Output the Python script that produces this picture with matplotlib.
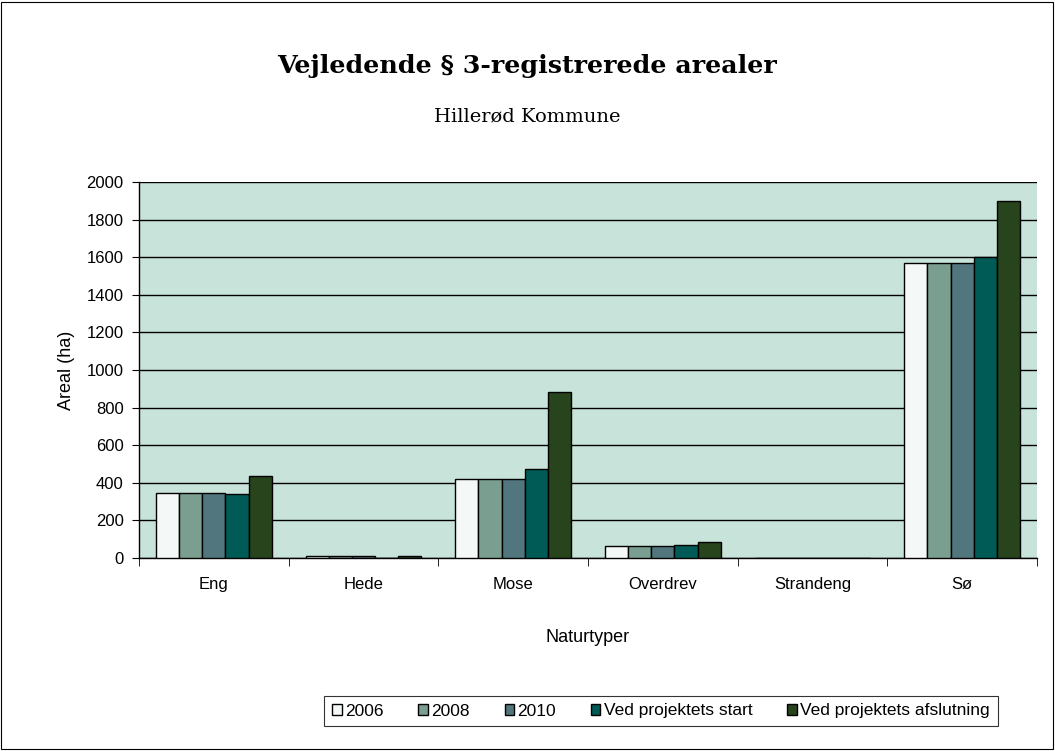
import matplotlib.pyplot as plt
import numpy as np

categories = ['Eng', 'Hede', 'Mose', 'Overdrev', 'Strandeng', 'Sø']
series = ['2006', '2008', '2010', 'Ved projektets start', 'Ved projektets afslutning']
v2006 = [346, 8, 422, 64, 0, 1569]
v2008 = [346, 8, 422, 64, 0, 1569]
v2010 = [346, 8, 422, 64, 0, 1569]
v_start = [340, 1, 473, 69, 0, 1600]
v_end = [436, 8, 883, 85, 0, 1899]
values = [v2006, v2008, v2010, v_start, v_end]
colors = ['#F4F9F7', '#7A9E90', '#51767D', '#005A55', '#27441C']

fig = plt.figure(figsize=(10.55, 7.51), dpi=100)
fig.patches.append(plt.Rectangle((0.001, 0.002), 0.997, 0.996, transform=fig.transFigure,
                                 fill=False, edgecolor='black', linewidth=0.8))
ax = fig.add_axes([139 / 1055, 1 - 558 / 751, 898 / 1055, 376 / 751])
ax.set_facecolor('#C8E3DA')

x = np.arange(len(categories))
w = 0.155
for i, (name, vals) in enumerate(zip(series, values)):
    ax.bar(x + (i - 2) * w, vals, width=w, color=colors[i], edgecolor='black',
           linewidth=1.0, label=name, zorder=3)

ax.set_xlim(-0.5, len(categories) - 0.5)
ax.set_ylim(0, 2000)
ax.set_yticks(np.arange(0, 2001, 200))
ax.yaxis.grid(True, color='black', linewidth=1.0, zorder=1)
ax.set_axisbelow(True)
ax.set_xticks(x)
ax.set_xticklabels(categories, fontsize=12, family='Liberation Sans')
ax.tick_params(axis='x', which='major', length=0, pad=14)
ax.set_xticks(np.arange(-0.5, len(categories) + 0.5, 1), minor=True)
ax.tick_params(axis='x', which='minor', length=6, color='black')
ax.tick_params(axis='y', length=5, labelsize=12, pad=6)
for lbl in ax.get_yticklabels():
    lbl.set_family('Liberation Sans')
for s in ['top', 'right']:
    ax.spines[s].set_visible(False)
ax.spines['left'].set_linewidth(1.0)
ax.spines['bottom'].set_linewidth(1.0)

ax.set_ylabel('Areal (ha)', fontsize=13, family='Liberation Sans', labelpad=8)
ax.set_xlabel('Naturtyper', fontsize=13, family='Liberation Sans', labelpad=26)

fig.text(527 / 1055, 1 - 66 / 751, 'Vejledende § 3-registrerede arealer', ha='center', va='center',
         fontsize=18.3, fontweight='bold', family='DejaVu Serif')
fig.text(527 / 1055, 1 - 116 / 751, 'Hillerød Kommune', ha='center', va='center',
         fontsize=14, family='DejaVu Serif')

leg = fig.legend(loc='center', bbox_to_anchor=(661 / 1055, 1 - 711 / 751), ncol=5,
                 frameon=True, fancybox=False, edgecolor='black',
                 handlelength=0.55, handleheight=0.55, handletextpad=0.2, columnspacing=2.0,
                 borderpad=0.45, prop={'family': 'Liberation Sans', 'size': 12.5})
leg.get_frame().set_linewidth(0.8)

fig.savefig('out.png', dpi=100)
